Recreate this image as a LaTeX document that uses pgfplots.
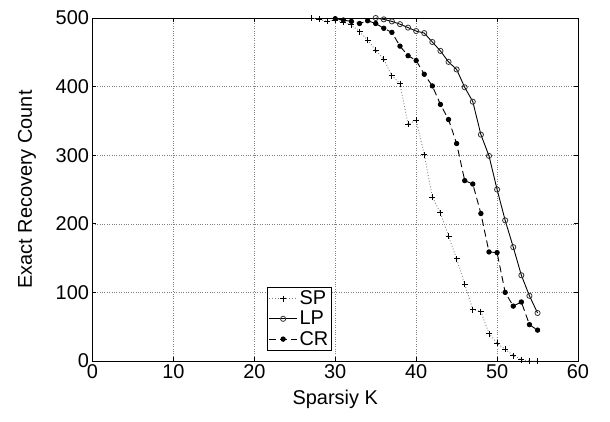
\documentclass[border=0pt]{standalone}
\usepackage{pgfplots}
\pgfplotsset{compat=1.18}
\usepackage{fontspec}
\setmainfont{Liberation Sans}

\begin{document}
\begin{tikzpicture}
\begin{axis}[
  at={(0,0)}, anchor=south west,
  scale only axis, width=485.5bp, height=343bp,
  xmin=0, xmax=60, ymin=0, ymax=500,
  xtick={0,10,...,60}, ytick={0,100,...,500},
  grid=major,
  major grid style={black!50, dotted, line width=0.6pt},
  axis line style={black, line width=1pt},
  tick align=inside, major tick length=4pt,
  tick style={black, line width=0.8pt},
  /pgf/number format/assume math mode=true,
  tick label style={font=\fontsize{20}{22}\selectfont},
  label style={font=\fontsize{20}{22}\selectfont},
  xlabel={Sparsiy K}, ylabel={Exact Recovery Count},
  xlabel style={yshift=-5pt},
  ylabel style={yshift=13pt},
  legend style={at={(0.359,0.03)}, anchor=south west, draw=black, line width=0.8pt,
    font=\fontsize{20}{21}\selectfont, inner sep=1.5pt, row sep=1pt,
    cells={anchor=west}},
  legend cell align=left,
  legend image code/.code={\draw[mark repeat=2,mark phase=2] plot coordinates {(0bp,0bp)(14bp,0bp)(28bp,0bp)};},
]
% SP
\addplot[gray, dotted, line width=0.9pt, mark=+, mark size=3pt,
  mark options={solid, black, line width=0.9pt}] coordinates {
(27,500)(28,498)(29,495)(30,497)(31,494)(32,490)(33,480)(34,468)(35,453)(36,440)
(37,416)(38,404)(39,345)(40,351)(41,301)(42,239)(43,216)(44,182)(45,149)(46,112)
(47,75)(48,72)(49,40)(50,26)(51,17)(52,8)(53,2)(54,0)(55,0)};
\addlegendentry{SP}
% LP
\addplot[black, solid, line width=0.9pt, mark=o, mark size=2.6pt,
  mark options={solid, black!80, line width=0.8pt}] coordinates {
(35,500)(36,498)(37,495)(38,491)(39,486)(40,481)(41,478)(42,465)(43,452)(44,436)
(45,425)(46,399)(47,378)(48,330)(49,299)(50,250)(51,205)(52,166)(53,125)(54,95)(55,70)};
\addlegendentry{LP}
% CR
\addplot[black, dashed, dash pattern=on 7pt off 4pt, line width=0.9pt, mark=*, mark size=2.2pt,
  mark options={solid, black}] coordinates {
(30,499)(31,497)(32,495)(33,492)(34,496)(35,492)(36,485)(37,479)(38,459)(39,445)(40,438)
(41,418)(42,401)(43,374)(44,352)(45,317)(46,263)(47,258)(48,215)(49,159)(50,158)
(51,100)(52,80)(53,86)(54,53)(55,45)};
\addlegendentry{CR}
\end{axis}
\pgfresetboundingbox
\path (-92.5bp,-61bp) rectangle (517.5bp,361bp);
\end{tikzpicture}
\end{document}
